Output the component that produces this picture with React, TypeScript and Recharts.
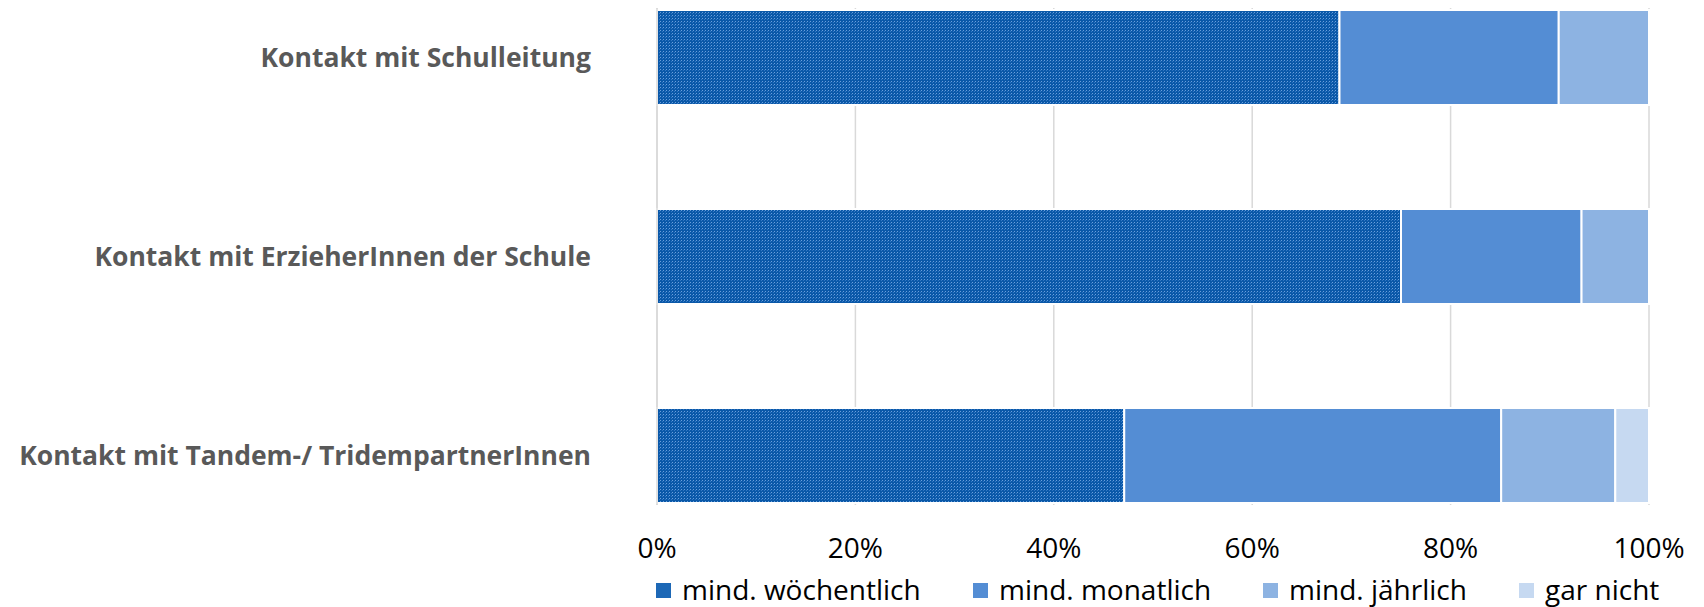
import React from "react";
import { BarChart, Bar, XAxis, YAxis, CartesianGrid, Legend } from "recharts";

// Kontaktfrequenz nach Kontaktart (Anteile in %)
const categories = [
  "Kontakt mit Schulleitung",
  "Kontakt mit ErzieherInnen der Schule",
  "Kontakt mit Tandem-/ TridempartnerInnen",
];
const woechentlich = [68.8, 75.0, 47.1];
const monatlich = [22.1, 18.2, 38.0];
const jaehrlich = [9.1, 6.8, 11.5];
const garNicht = [0, 0, 3.4];

const seriesNames = ["mind. wöchentlich", "mind. monatlich", "mind. jährlich", "gar nicht"];
const xTicks = [0, 20, 40, 60, 80, 100];

const rows = categories.map((name, i) => ({
  name,
  w: woechentlich[i],
  m: monatlich[i],
  j: jaehrlich[i],
  g: garNicht[i],
}));

const FONT = "'Open Sans', sans-serif";
const COLORS = ["url(#dotPattern)", "#548dd4", "#8db3e2", "#c6d9f1"];
const SWATCH = ["#1d68b6", "#548dd4", "#8db3e2", "#c6d9f1"];
// left edge of each legend entry
const legendX = [656, 973, 1263, 1519];

const CategoryTick = (props: any) => {
  const { x, y, payload } = props;
  return (
    <text
      x={x}
      y={y}
      dy={9}
      textAnchor="end"
      fill="#595959"
      fontSize={26.5}
      fontWeight={700}
      fontFamily={FONT}
    >
      {payload.value}
    </text>
  );
};

const PercentTick = (props: any) => {
  const { x, y, payload } = props;
  return (
    <text x={x} y={y} textAnchor="middle" fill="#000" fontSize={28} fontFamily={FONT}>
      {`${payload.value}%`}
    </text>
  );
};

const LegendContent = () => (
  <svg width={1704} height={37} style={{ display: "block" }}>
    {seriesNames.map((n, i) => (
      <g key={n}>
        <rect x={legendX[i]} y={13} width={15} height={15} fill={SWATCH[i]} />
        <text x={legendX[i] + 26} y={30} fontSize={28} fill="#000" fontFamily={FONT}>
          {n}
        </text>
      </g>
    ))}
  </svg>
);

export default function App() {
  return (
    <div style={{ position: "absolute", left: 0, top: 0, background: "#fff" }}>
      <BarChart
        width={1704}
        height={607}
        data={rows}
        layout="vertical"
        margin={{ top: 8, right: 55, left: 0, bottom: 72 }}
      >
        <defs>
          <pattern id="dotPattern" width={3} height={3} patternUnits="userSpaceOnUse">
            <rect width={3} height={3} fill="#0a58a8" />
            <rect x={0} y={0} width={1} height={1} fill="#6a9fdc" />
            <rect x={2} y={1} width={1} height={1} fill="#3478c4" />
          </pattern>
        </defs>
        <CartesianGrid horizontal={false} stroke="#d9d9d9" strokeWidth={1.5} />
        <XAxis
          type="number"
          domain={[0, 100]}
          ticks={xTicks}
          axisLine={false}
          tickLine={false}
          tickSize={0}
          tickMargin={53}
          height={30}
          tick={<PercentTick />}
          interval={0}
        />
        <YAxis
          type="category"
          dataKey="name"
          width={657}
          axisLine={{ stroke: "#d9d9d9", strokeWidth: 1.5 }}
          tickLine={false}
          tickSize={0}
          tickMargin={66}
          padding={{ top: -50, bottom: -50 }}
          tick={<CategoryTick />}
          interval={0}
        />
        <Legend
          layout="horizontal"
          verticalAlign="middle"
          align="center"
          wrapperStyle={{ top: 570, left: 0, width: 1704, height: 37 }}
          content={<LegendContent />}
        />
        {["w", "m", "j", "g"].map((k, i) => (
          <Bar
            key={k}
            dataKey={k}
            name={seriesNames[i]}
            stackId="s"
            fill={COLORS[i]}
            stroke="#fff"
            strokeWidth={2}
            barSize={95}
            isAnimationActive={false}
          />
        ))}
      </BarChart>
    </div>
  );
}
